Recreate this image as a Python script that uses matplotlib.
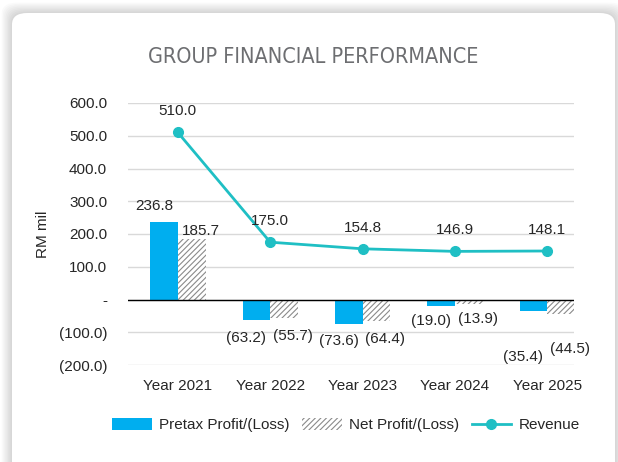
import matplotlib
matplotlib.use("Agg")
import matplotlib.pyplot as plt
from matplotlib.patches import FancyBboxPatch, Patch
from matplotlib.lines import Line2D
import numpy as np

plt.rcParams['font.family'] = ['Liberation Sans', 'DejaVu Sans']
plt.rcParams['hatch.linewidth'] = 0.8

years = ['Year 2021', 'Year 2022', 'Year 2023', 'Year 2024', 'Year 2025']
pretax = [236.8, -63.2, -73.6, -19.0, -35.4]
net = [185.7, -55.7, -64.4, -13.9, -44.5]
revenue = [510.0, 175.0, 154.8, 146.9, 148.1]

# label offsets in pixels (hand placed like the original)
pretax_dy = [16, -18, -17, -15, -46]
net_dy = [8, -18, -18, -15, -35]

blue = '#00aeef'
teal = '#1fbfc4'
hatch_c = '#8a8a8a'
text_c = '#262626'

W, H = 618, 462
fig = plt.figure(figsize=(W / 100, H / 100), dpi=100)
fig.patch.set_facecolor('white')

# card with a soft shadow
x0, y0, x1 = 12 / W, -0.1, 615 / W
y1 = 1 - 13 / H
for i in range(8, 0, -1):
    p = i * 1.3
    sh = FancyBboxPatch((x0 - p / W, y0), (x1 - x0) + 2 * p / W, (y1 - y0) + p / H,
                        boxstyle='round,pad=0,rounding_size=0.025',
                        transform=fig.transFigure, facecolor='black',
                        edgecolor='none', alpha=0.018, zorder=0)
    fig.patches.append(sh)
card = FancyBboxPatch((x0, y0), x1 - x0, y1 - y0,
                      boxstyle='round,pad=0,rounding_size=0.025',
                      transform=fig.transFigure, facecolor='white',
                      edgecolor='none', zorder=1)
fig.patches.append(card)

fig.text((12 + 615) / 2 / W, 1 - 63 / H, 'GROUP FINANCIAL PERFORMANCE',
         ha='center', va='baseline', fontsize=15.5, color='#6d6e71',
         family=['Liberation Sans Narrow', 'DejaVu Sans'], stretch='condensed')

ax = fig.add_axes([128 / W, 1 - 365 / H, (574 - 128) / W, (365 - 103) / H])
ax.set_facecolor('none')
ax.set_zorder(2)

x = np.arange(len(years))
bw = 0.30
ax.bar(x - bw / 2, pretax, bw, color=blue, zorder=3)
ax.bar(x + bw / 2, net, bw, facecolor='white', edgecolor=hatch_c,
       hatch='//////', linewidth=0, zorder=3)
ax.plot(x, revenue, color=teal, lw=2, marker='o', ms=7, zorder=4)

ax.set_xlim(-0.54, 4.29)
ax.set_ylim(-200, 600)
yt = np.arange(-200, 601, 100)
ax.set_yticks(yt)
ax.set_yticklabels(['(200.0)', '(100.0)', '-', '100.0', '200.0', '300.0',
                    '400.0', '500.0', '600.0'])
ax.set_xticks(x)
ax.set_xticklabels(years)
ax.tick_params(axis='both', length=0, labelsize=11, colors=text_c)
ax.tick_params(axis='y', pad=15)
ax.tick_params(axis='x', pad=10)
ax.grid(axis='y', color='#d9d9d9', lw=1, zorder=0)
ax.axhline(0, color='black', lw=1, zorder=3.5)
for s in ax.spines.values():
    s.set_visible(False)
ax.set_ylabel('RM mil', fontsize=11, color=text_c, labelpad=6)


def fmt(v):
    return f'({abs(v):.1f})' if v < 0 else f'{v:.1f}'


for i in range(len(years)):
    ax.annotate(fmt(pretax[i]), (x[i] - bw / 2, pretax[i]), xytext=(-10, pretax_dy[i]),
                textcoords='offset pixels', ha='center', va='center',
                fontsize=11, color=text_c, zorder=5)
    ax.annotate(fmt(net[i]), (x[i] + bw / 2, net[i]), xytext=(9, net_dy[i]),
                textcoords='offset pixels', ha='center', va='center',
                fontsize=11, color=text_c, zorder=5)
    ax.annotate(fmt(revenue[i]), (x[i], revenue[i]), xytext=(0, 21),
                textcoords='offset pixels', ha='center', va='center',
                fontsize=11, color=text_c, zorder=5)

handles = [Patch(facecolor=blue, edgecolor='none'),
           Patch(facecolor='white', edgecolor=hatch_c, hatch='//////', linewidth=0),
           Line2D([], [], color=teal, lw=2, marker='o', ms=7)]
fig.legend(handles, ['Pretax Profit/(Loss)', 'Net Profit/(Loss)', 'Revenue'],
           loc='center', bbox_to_anchor=(346 / W, 1 - 425 / H), ncol=3,
           frameon=False, fontsize=11, handlelength=2.6, handleheight=0.9,
           handletextpad=0.5, columnspacing=0.8, labelcolor=text_c)

fig.savefig('out.png', dpi=100, facecolor=fig.get_facecolor())
